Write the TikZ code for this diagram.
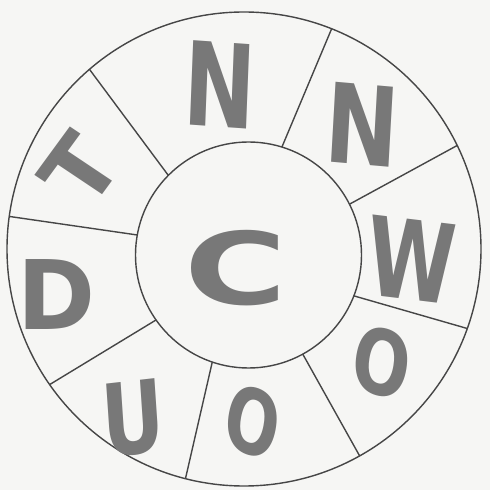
\documentclass[tikz,border=0pt]{standalone}
\usepackage{fontspec}
\usetikzlibrary{calc}
\newfontfamily\mk{DejaVu Sans}
\definecolor{bg}{RGB}{246,246,244}
\definecolor{ink}{RGB}{70,70,70}
\definecolor{lettergray}{RGB}{120,120,120}
\tikzset{
  ring/.style={draw=ink, line width=1.4pt},
  letter/.style={text=lettergray, inner sep=0pt, font=\mk\bfseries\fontsize{100}{100}\selectfont}
}
\begin{document}
\begin{tikzpicture}[x=1pt,y=1pt]
\fill[bg] (0,0) rectangle (490,490);
\useasboundingbox (0,0) rectangle (490,490);
\coordinate (O) at (244,241);
\coordinate (I) at (248.5,235);
\draw[ring] (O) circle (237);
\draw[ring] (I) circle (113);
\foreach \a/\b in {130.7/135.2, 68.3/72.8, 25.9/26.7, -19.6/-21.2, -60.8/-61.3, -104.3/-108.7, -145.1/-144.9, 172.1/169.8}
  \draw[ring] ($(I)+(\b:113)$) -- ($(O)+(\a:237)$);
\node[letter, xscale=.86, yscale=1.16, rotate=-3] (n1) at (220,405) {N};
\node[letter, xscale=.88, yscale=1.1, rotate=-4] (n2) at (362,365) {N};
\node[letter, xscale=.8, yscale=1.1, rotate=-5] (w) at (412,230) {W};
\node[letter, xscale=.68, yscale=.9, rotate=-12] (o1) at (382,128) {O};
\node[letter, xscale=.64, yscale=.9, rotate=-15] (o2) at (253,68) {O};
\node[letter, xscale=.77, yscale=1.0, rotate=5] (u) at (133,72) {U};
\node[letter, xscale=.94, yscale=.96] (d) at (57,195) {D};
\node[letter, xscale=.92, yscale=.88, rotate=55] (t) at (80,320) {T};
\node[letter, xscale=1.4, yscale=1.0] (c) at (236,222) {C};
\end{tikzpicture}
\end{document}
